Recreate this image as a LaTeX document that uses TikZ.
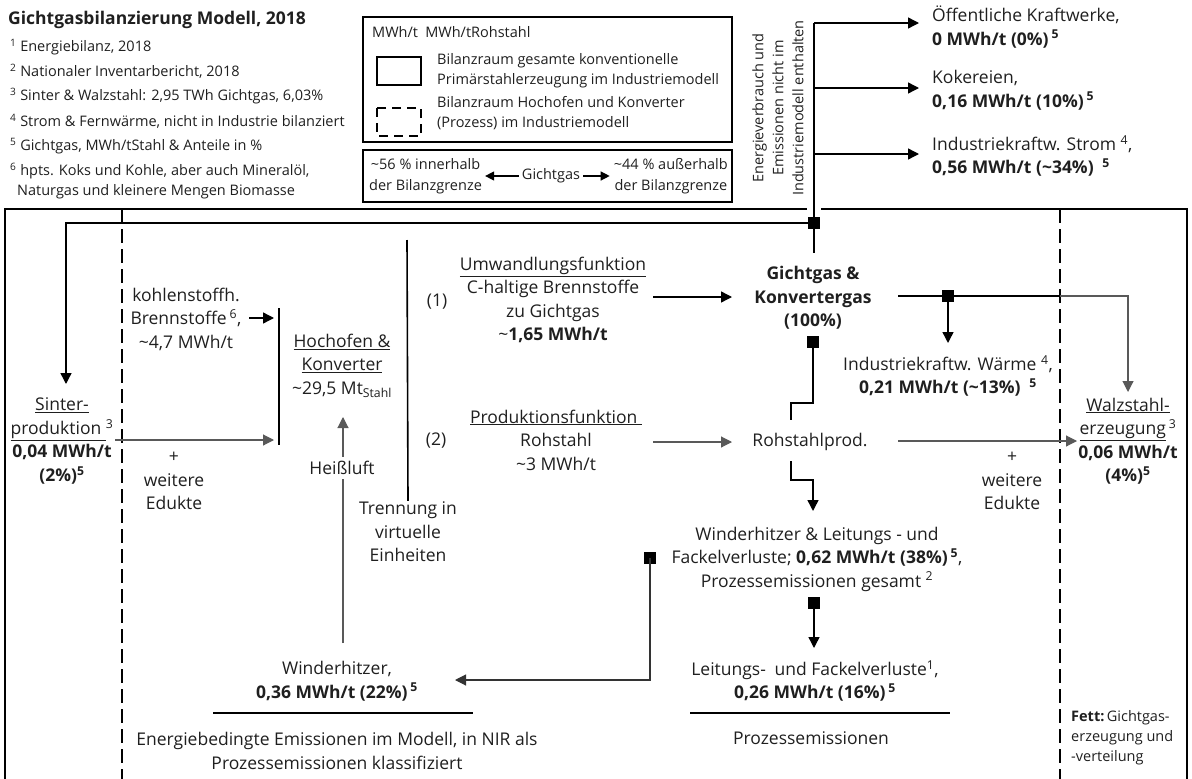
\documentclass[tikz,border=0pt]{standalone}
\usepackage{fontspec}
\setmainfont{Open Sans}
\usetikzlibrary{arrows.meta}
\newcommand{\apx}{\textasciitilde}
\newcommand{\bodyfont}{\fontsize{17.5}{23.5}\selectfont}
\newcommand{\notefont}{\fontsize{14.5}{20}\selectfont}
\newcommand{\boxfont}{\fontsize{14.5}{21}\selectfont}

\begin{document}
\begin{tikzpicture}[x=1pt,y=-1pt,
  txt/.style={font=\bodyfont, align=center, inner sep=1pt, text=black!88},
  note/.style={font=\notefont, align=left, inner sep=0pt, anchor=west, text=black!88},
  ln/.style={line width=1.4pt, draw=black},
  lnthin/.style={line width=1.1pt, draw=black!65},
  arr/.style={-{Triangle[length=11pt,width=11pt]}},
  arrsmall/.style={-{Triangle[length=9pt,width=9pt]}},
  sqm/.style={fill=black, minimum size=12pt, inner sep=0pt, draw=none},
  bnd/.style={line width=1.5pt, draw=black, dash pattern=on 14pt off 6pt}
]
\useasboundingbox (0,0) rectangle (1192,779);

% ---------- title and footnotes ----------
\node[note, font=\bodyfont\bfseries] (title) at (8,20) {Gichtgasbilanzierung Modell, 2018};
\node[note] (n1) at (10,47)  {\textsuperscript{1} Energiebilanz, 2018};
\node[note] (n2) at (10,71)  {\textsuperscript{2} Nationaler Inventarbericht, 2018};
\node[note] (n3) at (10,96)  {\textsuperscript{3} Sinter \& Walzstahl: 2,95 TWh Gichtgas, 6,03\%};
\node[note] (n4) at (10,121) {\textsuperscript{4} Strom \& Fernwärme, nicht in Industrie bilanziert};
\node[note] (n5) at (10,146) {\textsuperscript{5} Gichtgas, MWh/tStahl \& Anteile in \%};
\node[note] (n6) at (10,171) {\textsuperscript{6} hpts. Koks und Kohle, aber auch Mineralöl,};
\node[note] (n6b) at (17,192) {Naturgas und kleinere Mengen Biomasse};

% ---------- legend ----------
\draw[ln] (363,17) rectangle (732,142);
\node[note] (unit) at (372,32) {MWh/t\enspace MWh/tRohstahl};
\draw[ln] (377,57) rectangle (421,85);
\draw[ln, dash pattern=on 9pt off 6pt] (377,108) rectangle (421,136);
\node[note] (lgsolid) at (437,71) {Bilanzraum gesamte konventionelle\\Primärstahlerzeugung im Industriemodell};
\node[note] (lgdash) at (437,113) {Bilanzraum Hochofen und Konverter\\(Prozess) im Industriemodell};

\draw[ln] (363,150) rectangle (732,202);
\node[note, font=\boxfont, anchor=west, align=center] (inside) at (369,176) {\apx56 \% innerhalb\\der Bilanzgrenze};
\node[note, font=\boxfont, anchor=center] (gleg) at (551,176) {Gichtgas};
\node[note, font=\boxfont, anchor=east, align=center] (outside) at (728,176) {\apx44 \% außerhalb\\der Bilanzgrenze};
\draw[ln, arrsmall, line width=1.2pt, shorten <=3pt, shorten >=3pt] (gleg.west) -- (inside.east);
\draw[ln, arrsmall, line width=1.2pt, shorten <=3pt, shorten >=4pt] (gleg.east) -- (outside.west);

% ---------- flows leaving the model ----------
\node[note, anchor=center, align=center, rotate=90] (notinmodel) at (778,108)
  {Energieverbrauch und\\Emissionen nicht im\\Industriemodell enthalten};
\coordinate (dTop) at (814,23);
\coordinate (dMid) at (814,88);
\coordinate (dLow) at (814,154);
\coordinate (ggTop) at (814,253);
\node[txt, anchor=west, align=left] (kw) at (931,27)
  {Öffentliche Kraftwerke,\\\textbf{0 MWh/t (0\%)\,\textsuperscript{5}}};
\node[txt, anchor=west, align=left] (koks) at (931,90)
  {Kokereien,\\\textbf{0,16 MWh/t (10\%)\,\textsuperscript{5}}};
\node[txt, anchor=west, align=left] (ikws) at (931,156)
  {Industriekraftw. Strom \textsuperscript{4},\\\textbf{0,56 MWh/t (\apx34\%)\enspace\textsuperscript{5}}};
\draw[ln] (dTop) -- (ggTop);
\draw[ln, arr, shorten >=12pt] (dTop) -- (kw.west |- dTop);
\draw[ln, arr, shorten >=12pt] (dMid) -- (koks.west |- dMid);
\draw[ln, arr, shorten >=12pt] (dLow) -- (ikws.west |- dLow);

% ---------- system boundaries ----------
\draw[ln] (5,779) -- (5,209) -- (807,209);
\draw[ln] (821,209) -- (1187,209) -- (1187,779);
\draw[bnd] (122,209) -- (122,779);
\draw[bnd] (1060,209) -- (1060,779);

% ---------- sinter feedback ----------
\node[txt] (sinter) at (62,441)
  {\underline{Sinter-}\\\underline{produktion\ }\textsuperscript{3}\\\textbf{0,04 MWh/t}\\\textbf{(2\%)\textsuperscript{5}}};
\coordinate (sinIn) at (66,384);
\node[sqm] (sqTop) at (814,223) {};
\draw[ln, arr] (sqTop.center) -- (66,223) -- (sinIn);

% ---------- blast furnace ----------
\coordinate (hbTop) at (279,308);
\coordinate (hbBot) at (279,445);
\draw[ln] (hbTop) -- (hbBot);
\node[txt] (cfuel) at (186,319) {kohlenstoffh.\\Brennstoffe\,\textsuperscript{6},\hspace{28pt}\\\apx4,7 MWh/t};
\coordinate (cfuelOut) at (249,318);
\coordinate (cfuelIn) at (274,318);
\draw[ln, arr] (cfuelOut) -- (cfuelIn);
\coordinate (sinOut) at (115,440);
\coordinate (hofIn) at (274,440);
\draw[lnthin, arr] (sinOut) -- (hofIn);
\node[txt] (edL) at (174,481) {+\\weitere\\Edukte};

\node[txt] (hof) at (342,366) {\underline{Hochofen \&}\\\underline{Konverter}\\\apx29,5 Mt\textsubscript{Stahl}};
\coordinate (hlBot) at (343,643);
\coordinate (hlTop) at (343,417);
\draw[lnthin, arr] (hlBot) -- (hlTop);
\node[txt, fill=white, inner sep=4pt] (heiss) at (342,468) {Heißluft};

% ---------- separation into virtual units ----------
\node[txt] (trenn) at (408,532) {Trennung in\\virtuelle\\Einheiten};
\coordinate (sepTop) at (407,240);
\draw[ln, line width=1.6pt] (sepTop) -- (trenn.north);
\node[txt] (p1) at (437,302) {(1)};
\node[txt] (p2) at (436,441) {(2)};
\node[txt] (umw) at (553,300)
  {\underline{Umwandlungsfunktion}\\C-haltige Brennstoffe\\zu Gichtgas\\\apx\textbf{1,65 MWh/t}};
\node[txt] (prod) at (556,440)
  {\underline{Produktionsfunktion\ }\\Rohstahl\\\apx3 MWh/t};

% ---------- top gas hub ----------
\node[txt, font=\bodyfont\bfseries] (gg) at (813,298) {Gichtgas \&\\Konvertergas\\(100\%)};
\coordinate (umwOut) at (653,297);
\coordinate (ggIn) at (732,297);
\draw[ln, arr] (umwOut) -- (ggIn);
\coordinate (prodOut) at (653,442);
\coordinate (rspIn) at (732,442);
\draw[lnthin, arr] (prodOut) -- (rspIn);

\coordinate (ggOut) at (898,296);
\node[sqm] (sqW) at (948,296) {};
\node[txt] (ikww) at (948,376)
  {Industriekraftw. Wärme \textsuperscript{4},\\\textbf{0,21 MWh/t (\apx13\%)\enspace\textsuperscript{5}}};
\coordinate (ikwwIn) at (948,343);
\coordinate (walzIn) at (1128,392);
\draw[ln] (ggOut) -- (sqW.center);
\draw[ln, arr] (sqW.center) -- (ikwwIn);
\draw[ln] (sqW.center) -- (1060,296);
\draw[lnthin, arr] (1060,296) -- (1128,296) -- (walzIn);

\node[sqm] (sqG) at (813,342) {};
\node[txt] (rsp) at (810,442) {Rohstahlprod.};
\draw[ln] (sqG.center) -- (813,403) -- (791,403) -- (791,420);
\coordinate (rspOut) at (898,441);
\coordinate (walzL) at (1077,441);
\draw[lnthin, arr] (rspOut) -- (walzL);
\node[txt] (edR) at (1012,481) {+\\weitere\\Edukte};
\node[txt] (walz) at (1128,441)
  {\underline{Walzstahl-}\\\underline{erzeugung}\,\textsuperscript{3}\\\textbf{0,06 MWh/t}\\\textbf{(4\%)\textsuperscript{5}}};

% ---------- losses and hot-blast stoves ----------
\node[txt] (wlf) at (817,559)
  {Winderhitzer \& Leitungs - und\\Fackelverluste; \textbf{0,62 MWh/t (38\%)\,\textsuperscript{5}},\\Prozessemissionen gesamt \textsuperscript{2}};
\coordinate (wlfIn) at (813,511);
\draw[ln, arr] (791,461) -- (791,480) -- (813,480) -- (wlfIn);

\node[txt] (wind) at (337,681) {Winderhitzer,\\\textbf{0,36 MWh/t (22\%)\,\textsuperscript{5}}};
\node[sqm] (sqL) at (650,558) {};
\coordinate (windIn) at (455,680);
\draw[lnthin, draw=black!80, arr] (sqL.center) -- (650,680) -- (windIn);

\node[sqm] (sqB) at (814,603) {};
\node[txt] (lfv) at (815,681)
  {Leitungs-\enspace und Fackelverluste\textsuperscript{1},\\\textbf{0,26 MWh/t (16\%)\,\textsuperscript{5}}};
\coordinate (lfvIn) at (814,648);
\draw[ln, arr] (sqB.center) -- (lfvIn);

\coordinate (ruleLa) at (213,713);
\coordinate (ruleLb) at (473,713);
\draw[ln] (ruleLa) -- (ruleLb);
\node[txt, font=\fontsize{17.5}{24.5}\selectfont] (energ) at (337,751)
  {Energiebedingte Emissionen im Modell, in NIR als\\Prozessemissionen klassifiziert};

\coordinate (ruleRa) at (690,713);
\coordinate (ruleRb) at (950,713);
\draw[ln] (ruleRa) -- (ruleRb);
\node[txt] (proz) at (811,738) {Prozessemissionen};

\node[note] (fett) at (1071,738) {\textbf{Fett:}\,Gichtgas-\\erzeugung und\\-verteilung};
\end{tikzpicture}
\end{document}
